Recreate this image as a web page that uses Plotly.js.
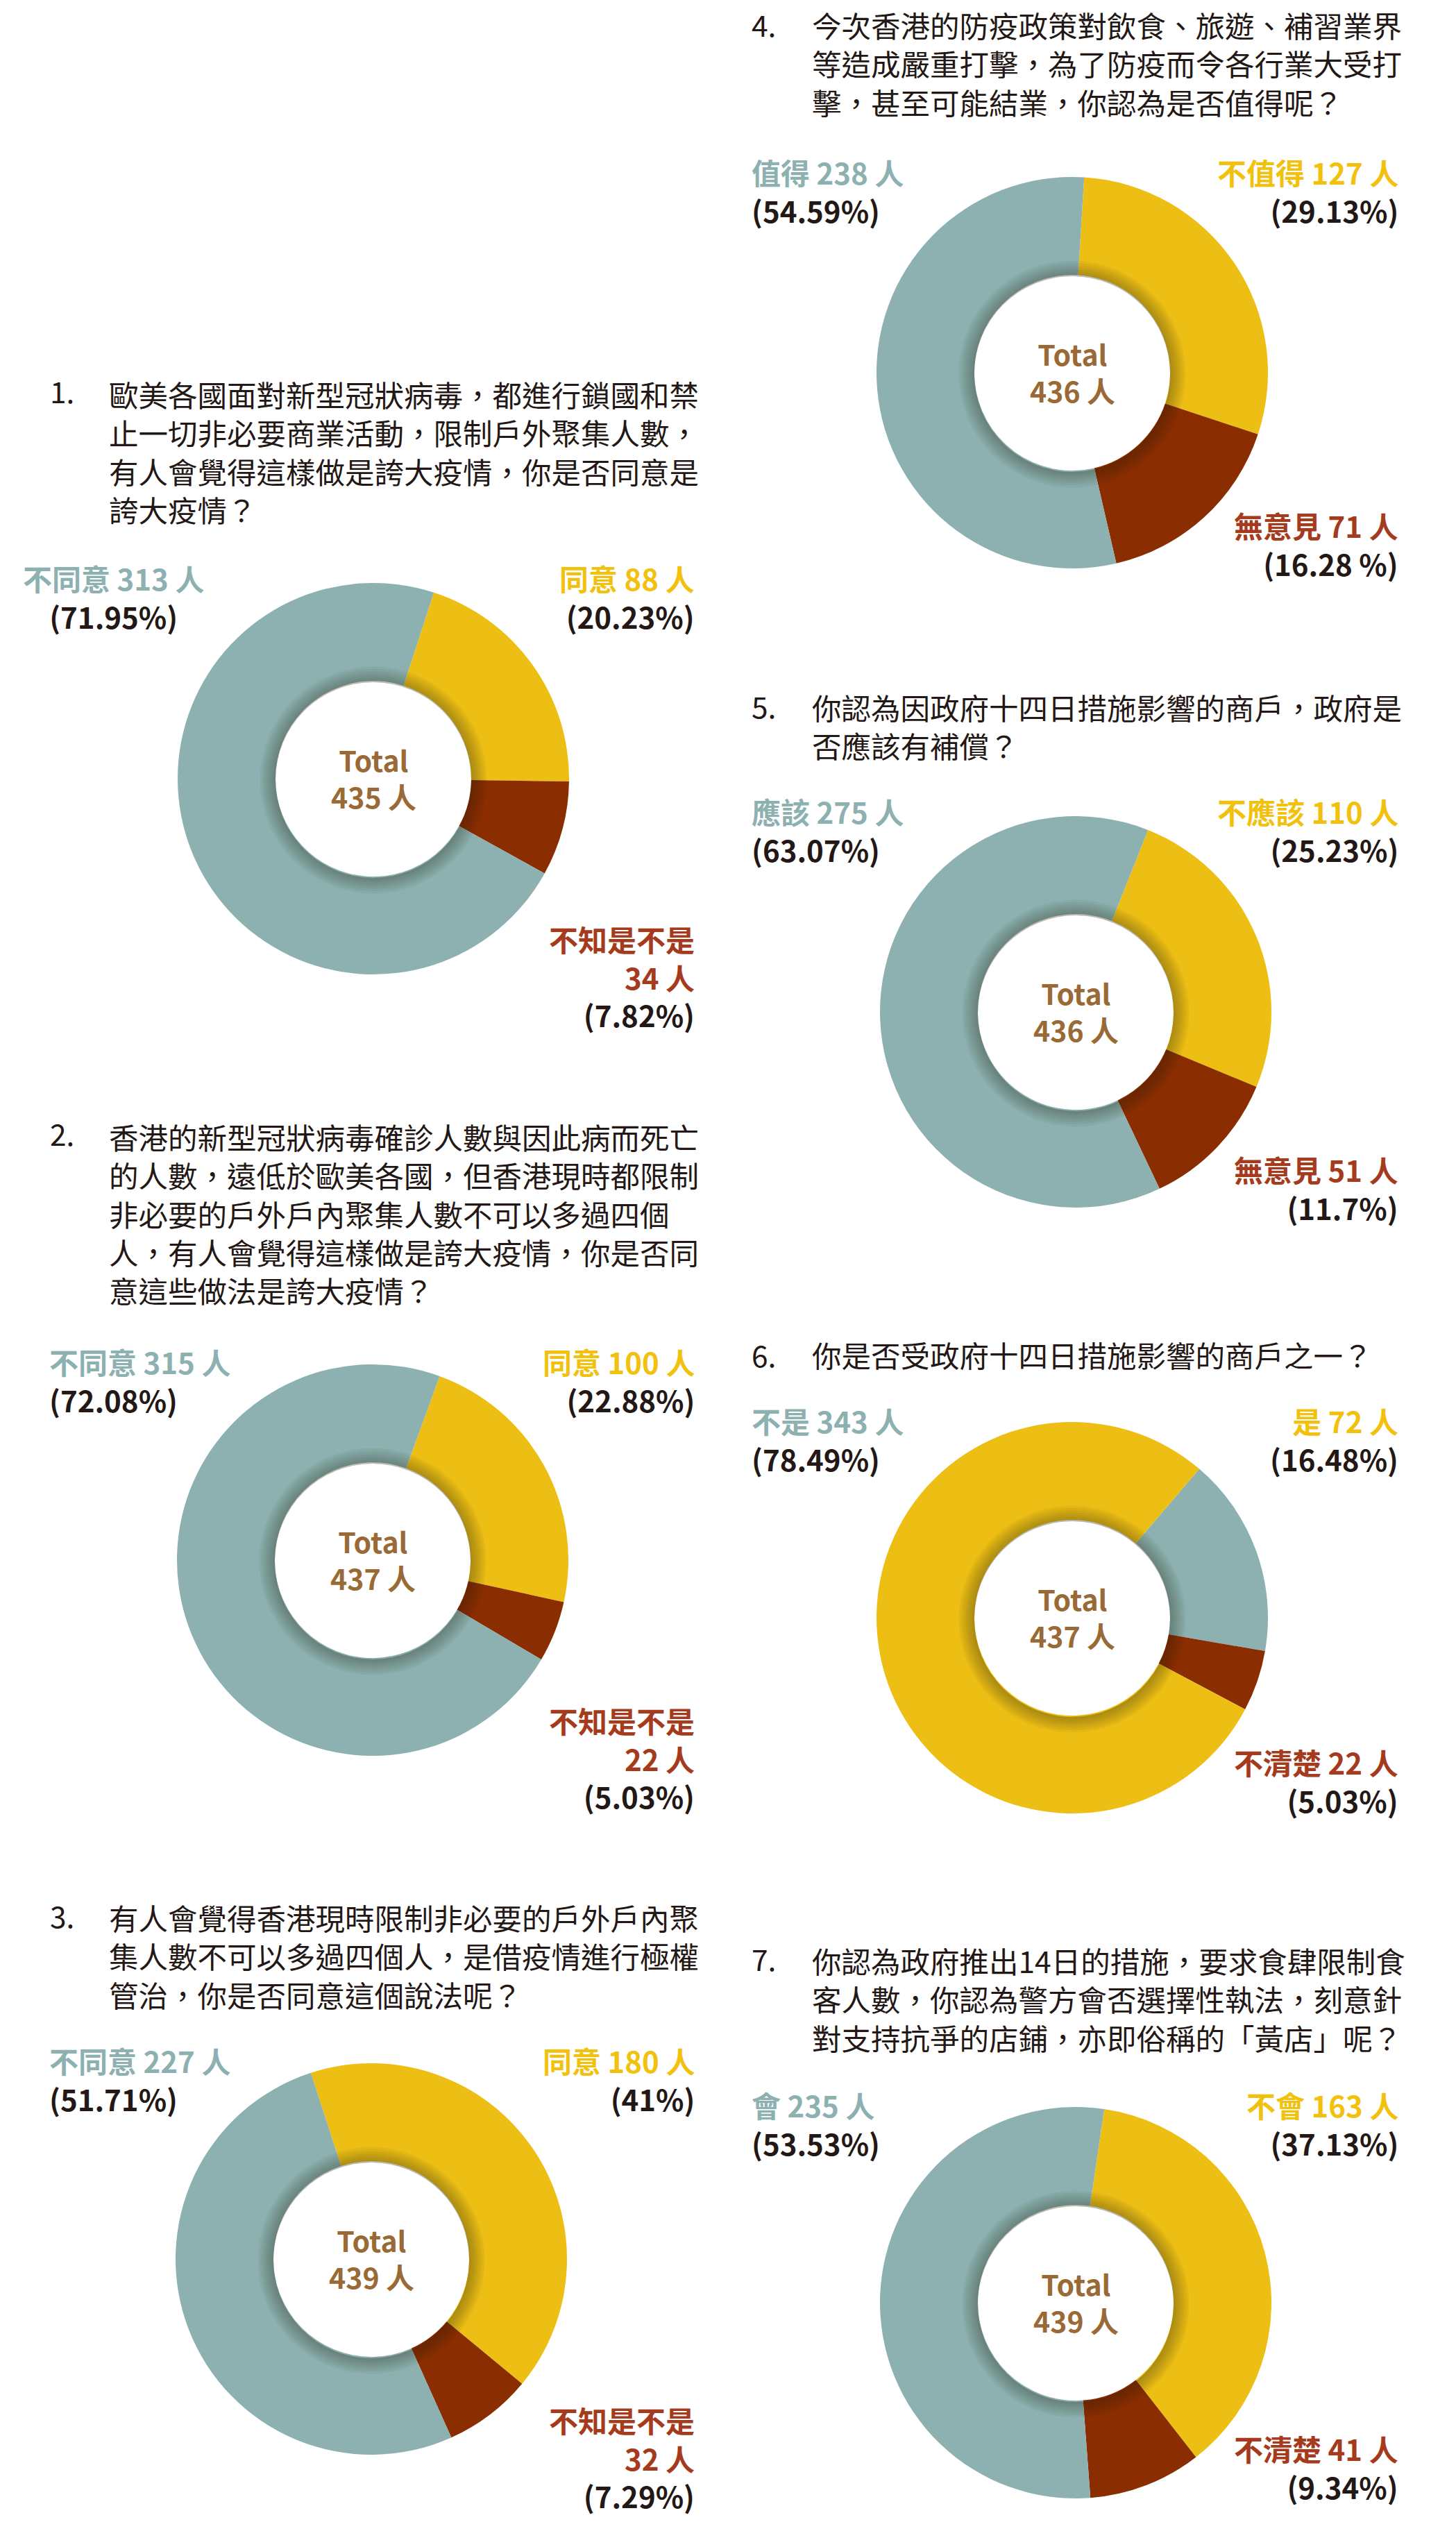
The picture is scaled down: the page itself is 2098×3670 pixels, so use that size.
<!DOCTYPE html>
<html>
<head>
<meta charset="utf-8">
<script src="https://cdn.plot.ly/plotly-3.0.1.min.js"></script>
<style>
html,body{margin:0;padding:0;background:#ffffff;}
#chart{width:2098px;height:3670px;}
</style>
</head>
<body>
<div id="chart"></div>
<script>
// ---------------- DATA ----------------
const questionNumbers = ['1.', '2.', '3.', '4.', '5.', '6.', '7.'];

const questionLines = [
  ['歐美各國面對新型冠狀病毒，都進行鎖國和禁', '止一切非必要商業活動，限制戶外聚集人數，', '有人會覺得這樣做是誇大疫情，你是否同意是', '誇大疫情？'],
  ['香港的新型冠狀病毒確診人數與因此病而死亡', '的人數，遠低於歐美各國，但香港現時都限制', '非必要的戶外戶內聚集人數不可以多過四個', '人，有人會覺得這樣做是誇大疫情，你是否同', '意這些做法是誇大疫情？'],
  ['有人會覺得香港現時限制非必要的戶外戶內聚', '集人數不可以多過四個人，是借疫情進行極權', '管治，你是否同意這個說法呢？'],
  ['今次香港的防疫政策對飲食、旅遊、補習業界', '等造成嚴重打擊，為了防疫而令各行業大受打', '擊，甚至可能結業，你認為是否值得呢？'],
  ['你認為因政府十四日措施影響的商戶，政府是', '否應該有補償？'],
  ['你是否受政府十四日措施影響的商戶之一？'],
  ['你認為政府推出14日的措施，要求食肆限制食', '客人數，你認為警方會否選擇性執法，刻意針', '對支持抗爭的店鋪，亦即俗稱的「黃店」呢？']
];

// slice order (clockwise): top-right slice, bottom-right slice, left slice
const sliceNames = [
  ['同意', '不知是不是', '不同意'],
  ['同意', '不知是不是', '不同意'],
  ['同意', '不知是不是', '不同意'],
  ['不值得', '無意見', '值得'],
  ['不應該', '無意見', '應該'],
  ['是', '不清楚', '不是'],
  ['不會', '不清楚', '會']
];
const sliceCounts = [
  [88, 34, 313],
  [100, 22, 315],
  [180, 32, 227],
  [127, 71, 238],
  [110, 51, 275],
  [72, 22, 343],
  [163, 41, 235]
];
const slicePercents = [
  ['20.23%', '7.82%', '71.95%'],
  ['22.88%', '5.03%', '72.08%'],
  ['41%', '7.29%', '51.71%'],
  ['29.13%', '16.28 %', '54.59%'],
  ['25.23%', '11.7%', '63.07%'],
  ['16.48%', '5.03%', '78.49%'],
  ['37.13%', '9.34%', '53.53%']
];
const totals = [435, 437, 439, 436, 436, 437, 439];

// ---------------- STYLE / LAYOUT ----------------
const W = 2098, H = 3670;
const TEAL = '#8cb1b0', YELLOW = '#edbe14', BROWN = '#8a2d00';
const TEAL_T = '#8cb1b0', YELLOW_T = '#f2c10e', BROWN_T = '#a63a1c';
const DARK = '#231815', GOLD = '#996a35';
const FONT = '"Noto Sans CJK TC", "Noto Sans CJK SC", "Noto Sans", sans-serif';
const QSIZE = 42.5, LSIZE = 42, TSIZE = 41;

const R = 282;
const panels = [
  {cx: 538, cy: 1122, nx: 70, tx: 155, ty: [562, 738], lx: 163, lAnchor: 'center', rx: 1003, nameY: -287, bot: [227, 342], split: true, rot: 18, colors: [YELLOW, BROWN, TEAL]},
  {cx: 537, cy: 2248, nx: 70, tx: 155, ty: [1632, 1865], lx: 69, lAnchor: 'left', rx: 1003, nameY: -285, bot: [227, 342], split: true, rot: 20, colors: [YELLOW, BROWN, TEAL]},
  {cx: 535, cy: 3255, nx: 70, tx: 155, ty: [2759, 2876], lx: 69, lAnchor: 'left', rx: 1003, nameY: -285, bot: [227, 345], split: true, rot: -18, colors: [YELLOW, BROWN, TEAL]},
  {cx: 1545, cy: 537, nx: 1081, tx: 1168, ty: [35, 147], lx: 1081, lAnchor: 'left', rx: 2017, nameY: -288, bot: [221, 272], split: false, rot: 3.5, colors: [YELLOW, BROWN, TEAL]},
  {cx: 1550, cy: 1458, nx: 1081, tx: 1168, ty: [1017, 1074], lx: 1081, lAnchor: 'left', rx: 2017, nameY: -287, bot: [228, 280], split: false, rot: 21.7, colors: [YELLOW, BROWN, TEAL]},
  {cx: 1545, cy: 2331, nx: 1081, tx: 1168, ty: [1951, 1951], lx: 1081, lAnchor: 'left', rx: 2017, nameY: -283, bot: [209, 260], split: false, rot: 40.5, colors: [TEAL, BROWN, YELLOW]},
  {cx: 1550, cy: 3318, nx: 1081, tx: 1168, ty: [2821, 2938], lx: 1081, lAnchor: 'left', rx: 2017, nameY: -284, bot: [211, 263], split: false, rot: 8.4, colors: [YELLOW, BROWN, TEAL]}
];

const px = x => x / W;
const py = y => 1 - y / H;

const traces = [];
const annotations = [];

function ann(text, x, y, anchor, size, color, weight, align) {
  annotations.push({
    text: text, x: px(x), y: py(y), xref: 'paper', yref: 'paper',
    xanchor: anchor, yanchor: 'middle', align: align || anchor, showarrow: false,
    font: {family: FONT, size: size, color: color, weight: weight || 400}
  });
}
const col = (t, c) => '<span style="color:' + c + '">' + t + '</span>';

panels.forEach((p, i) => {
  // main donut
  traces.push({
    type: 'pie',
    values: sliceCounts[i],
    labels: sliceNames[i],
    sort: false,
    direction: 'clockwise',
    rotation: p.rot,
    hole: 0.5,
    textinfo: 'none',
    hoverinfo: 'label+value',
    marker: {colors: p.colors, line: {width: 0}},
    domain: {x: [px(p.cx - R), px(p.cx + R)], y: [py(p.cy + R), py(p.cy - R)]},
    showlegend: false
  });
  // soft shadow around the hole
  const rh = R * 0.5;
  for (let k = 1; k <= 7; k++) {
    const ro = rh + k * 3.2;
    const sy = p.cy + 2;
    traces.push({
      type: 'pie',
      values: [1],
      labels: ['s'],
      sort: false,
      hole: rh / ro,
      textinfo: 'none',
      hoverinfo: 'skip',
      marker: {colors: ['rgba(40,30,25,0.05)'], line: {width: 0}},
      domain: {x: [px(p.cx - ro), px(p.cx + ro)], y: [py(sy + ro), py(sy - ro)]},
      showlegend: false
    });
  }

  // question number & text block
  ann(questionNumbers[i], p.nx, p.ty[0], 'left', QSIZE, DARK, 400);
  ann(questionLines[i].join('<br>'), p.tx, (p.ty[0] + p.ty[1]) / 2, 'left', QSIZE, DARK, 400);

  // center total
  ann('Total<br>' + totals[i] + ' 人', p.cx, p.cy - 2, 'center', TSIZE, GOLD, 700);

  const names = sliceNames[i], counts = sliceCounts[i], pcts = slicePercents[i];
  const top = p.cy + p.nameY;
  // left label (third slice)
  ann(col(names[2] + ' ' + counts[2] + ' 人', TEAL_T) + '<br>' + col('(' + pcts[2] + ')', DARK),
      p.lx, top + 25.5, p.lAnchor, LSIZE, DARK, 700);
  // right-top label (first slice)
  ann(col(names[0] + ' ' + counts[0] + ' 人', YELLOW_T) + '<br>' + col('(' + pcts[0] + ')', DARK),
      p.rx, top + 25.5, 'right', LSIZE, DARK, 700);
  // bottom-right label (second slice)
  if (p.split) {
    ann(col(names[1], BROWN_T) + '<br>' + col(counts[1] + ' 人', BROWN_T) + '<br>' + col('(' + pcts[1] + ')', DARK),
        p.rx, p.cy + (p.bot[0] + p.bot[1]) / 2, 'right', LSIZE, DARK, 700);
  } else {
    ann(col(names[1] + ' ' + counts[1] + ' 人', BROWN_T) + '<br>' + col('(' + pcts[1] + ')', DARK),
        p.rx, p.cy + (p.bot[0] + p.bot[1]) / 2, 'right', LSIZE, DARK, 700);
  }
});

const layout = {
  width: W, height: H,
  margin: {l: 0, r: 0, t: 0, b: 0},
  paper_bgcolor: '#ffffff',
  plot_bgcolor: '#ffffff',
  showlegend: false,
  annotations: annotations,
  font: {family: FONT}
};

Plotly.newPlot('chart', traces, layout, {displayModeBar: false, staticPlot: true});
</script>
</body>
</html>
